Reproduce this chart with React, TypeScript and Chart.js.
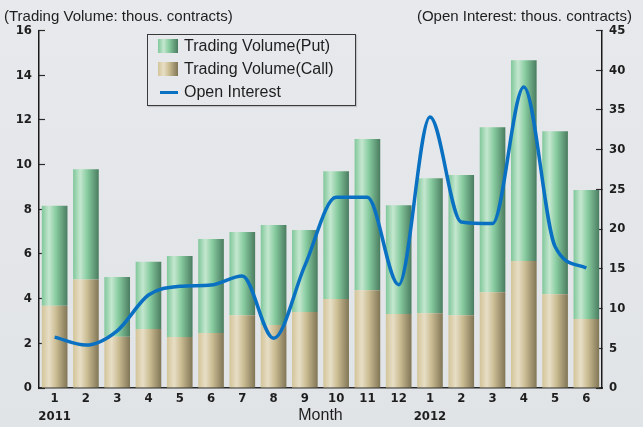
import React, { useEffect, useRef } from "react";
import { Chart, registerables } from "chart.js";

Chart.register(...registerables);

const monthLabels: (string | string[])[] = [
  ["1", "2011"], "2", "3", "4", "5", "6", "7", "8", "9", "10", "11", "12",
  ["1", "2012"], "2", "3", "4", "5", "6",
];
const callVolume = [3.68, 4.86, 2.29, 2.64, 2.28, 2.46, 3.26, 2.82, 3.40, 3.98, 4.38, 3.31, 3.35, 3.26, 4.29, 5.68, 4.20, 3.09];
const putVolume = [4.48, 4.93, 2.68, 3.01, 3.63, 4.21, 3.72, 4.47, 3.67, 5.72, 6.76, 4.87, 6.04, 6.27, 7.38, 8.99, 7.29, 5.77];
const openInterest = [6.4, 5.4, 7.2, 11.7, 12.8, 12.96, 14.1, 6.25, 15.4, 24.0, 24.0, 13.0, 34.1, 20.9, 20.7, 37.9, 17.8, 15.1];

const leftAxisTitle = "(Trading Volume: thous. contracts)";
const rightAxisTitle = "(Open Interest: thous. contracts)";
const xAxisTitle = "Month";
const seriesNames = ["Trading Volume(Put)", "Trading Volume(Call)", "Open Interest"];

const PUT_STOPS: [number, string][] = [[0, "#80c79a"], [0.28, "#c4e7cf"], [0.55, "#88cca0"], [1, "#4a7c60"]];
const CALL_STOPS: [number, string][] = [[0, "#d3c498"], [0.28, "#e7dec6"], [0.55, "#cbbd93"], [1, "#807556"]];
const LINE_COLOR = "#0a71c2";
const BAR_PCT = 0.82;
const TICK_FONT = { family: '"Liberation Sans Narrow", "DejaVu Sans Condensed", Arial, sans-serif', size: 13, weight: "bold" as const, lineHeight: 1.35 };

function gradientFor(stops: [number, string][]) {
  return (ctx: any) => {
    const chart = ctx.chart;
    const xs = chart.scales && chart.scales.x;
    if (ctx.type !== "data" || !xs || !chart.chartArea) return stops[1][1];
    const cx = xs.getPixelForValue(ctx.dataIndex);
    const w = (xs.width / monthLabels.length) * BAR_PCT;
    const g = chart.ctx.createLinearGradient(cx - w / 2, 0, cx + w / 2, 0);
    stops.forEach(([o, c]) => g.addColorStop(o, c));
    return g;
  };
}

function cssGradient(stops: [number, string][]) {
  return `linear-gradient(to right, ${stops.map(([o, c]) => `${c} ${o * 100}%`).join(", ")})`;
}

export default function App() {
  const canvasRef = useRef<HTMLCanvasElement | null>(null);

  useEffect(() => {
    if (!canvasRef.current) return;
    const chart = new Chart(canvasRef.current, {
      type: "bar",
      data: {
        labels: monthLabels,
        datasets: [
          {
            type: "line",
            label: seriesNames[2],
            data: openInterest,
            yAxisID: "y2",
            borderColor: LINE_COLOR,
            backgroundColor: LINE_COLOR,
            borderWidth: 3.5,
            pointRadius: 0,
            cubicInterpolationMode: "monotone",
            order: 0,
          } as any,
          {
            type: "bar",
            label: seriesNames[1],
            data: callVolume,
            yAxisID: "y",
            stack: "vol",
            backgroundColor: gradientFor(CALL_STOPS),
            borderWidth: 0,
            barPercentage: BAR_PCT,
            categoryPercentage: 1,
            order: 1,
          },
          {
            type: "bar",
            label: seriesNames[0],
            data: putVolume,
            yAxisID: "y",
            stack: "vol",
            backgroundColor: gradientFor(PUT_STOPS),
            borderWidth: 0,
            barPercentage: BAR_PCT,
            categoryPercentage: 1,
            order: 1,
          },
        ],
      },
      options: {
        animation: false,
        responsive: false,
        maintainAspectRatio: false,
        layout: { padding: { top: 30.5, left: 0, right: 0, bottom: 0 } },
        plugins: { legend: { display: false }, tooltip: { enabled: false }, title: { display: false } },
        scales: {
          x: {
            stacked: true,
            offset: true,
            grid: { display: false, drawTicks: false },
            border: { display: true, color: "#2a2a2a", width: 1.5 },
            ticks: { color: "#1e1e1e", font: TICK_FONT, padding: 2, maxRotation: 0, autoSkip: false },
            title: {
              display: true,
              text: xAxisTitle,
              color: "#1e1e1e",
              font: { family: '"Liberation Sans", Arial, sans-serif', size: 16, weight: "normal", lineHeight: 1.1 },
              padding: { top: 0, bottom: 3 },
            },
            afterFit: (s: any) => { s.height = 39; },
          },
          y: {
            position: "left",
            stacked: true,
            min: 0,
            max: 16,
            ticks: { stepSize: 2, color: "#1e1e1e", font: TICK_FONT, padding: 13 },
            grid: { drawOnChartArea: false, drawTicks: true, tickLength: -6, color: "#2a2a2a", tickWidth: 1.2 },
            border: { display: true, color: "#1a1a1a", width: 1.5 },
            afterFit: (s: any) => { s.width = 39; },
          },
          y2: {
            position: "right",
            min: 0,
            max: 45,
            ticks: { stepSize: 5, color: "#1e1e1e", font: TICK_FONT, padding: 13 },
            grid: { drawOnChartArea: false, drawTicks: true, tickLength: -6, color: "#2a2a2a", tickWidth: 1.2 },
            border: { display: true, color: "#1a1a1a", width: 1.5 },
            afterFit: (s: any) => { s.width = 41; },
          },
        },
      },
    });
    return () => chart.destroy();
  }, []);

  const textStyle: React.CSSProperties = {
    position: "absolute",
    fontFamily: '"Liberation Sans", Arial, sans-serif',
    fontSize: 15,
    color: "#1e1e1e",
    whiteSpace: "nowrap",
    lineHeight: "16px",
  };
  const legendRow = (top: number): React.CSSProperties => ({
    position: "absolute",
    left: 10,
    top,
    height: 20,
    display: "flex",
    alignItems: "center",
    fontFamily: '"Liberation Sans", Arial, sans-serif',
    fontSize: 16,
    color: "#1e1e1e",
    whiteSpace: "nowrap",
  });

  return (
    <div style={{ position: "fixed", left: 0, top: 0, width: 643, height: 427, background: "linear-gradient(#e7e9ec, #e1e4e7)", overflow: "hidden" }}>
      <canvas ref={canvasRef} width={643} height={427} style={{ position: "absolute", left: 0, top: 0, width: 643, height: 427 }} />
      <div style={{ ...textStyle, left: 4, top: 8 }}>{leftAxisTitle}</div>
      <div style={{ ...textStyle, right: 11, top: 8 }}>{rightAxisTitle}</div>
      <div style={{ position: "absolute", left: 147, top: 34, width: 209, height: 72, border: "1px solid #3a3a3a", boxSizing: "border-box", boxShadow: "1px 1px 1px rgba(0,0,0,0.15)" }}>
        <div style={legendRow(1)}>
          <span style={{ display: "inline-block", width: 20, height: 14, background: cssGradient(PUT_STOPS), marginRight: 6 }} />
          {seriesNames[0]}
        </div>
        <div style={legendRow(24)}>
          <span style={{ display: "inline-block", width: 20, height: 14, background: cssGradient(CALL_STOPS), marginRight: 6 }} />
          {seriesNames[1]}
        </div>
        <div style={legendRow(47)}>
          <span style={{ display: "inline-block", width: 18, height: 3, background: LINE_COLOR, marginLeft: 2, marginRight: 6 }} />
          {seriesNames[2]}
        </div>
      </div>
    </div>
  );
}
